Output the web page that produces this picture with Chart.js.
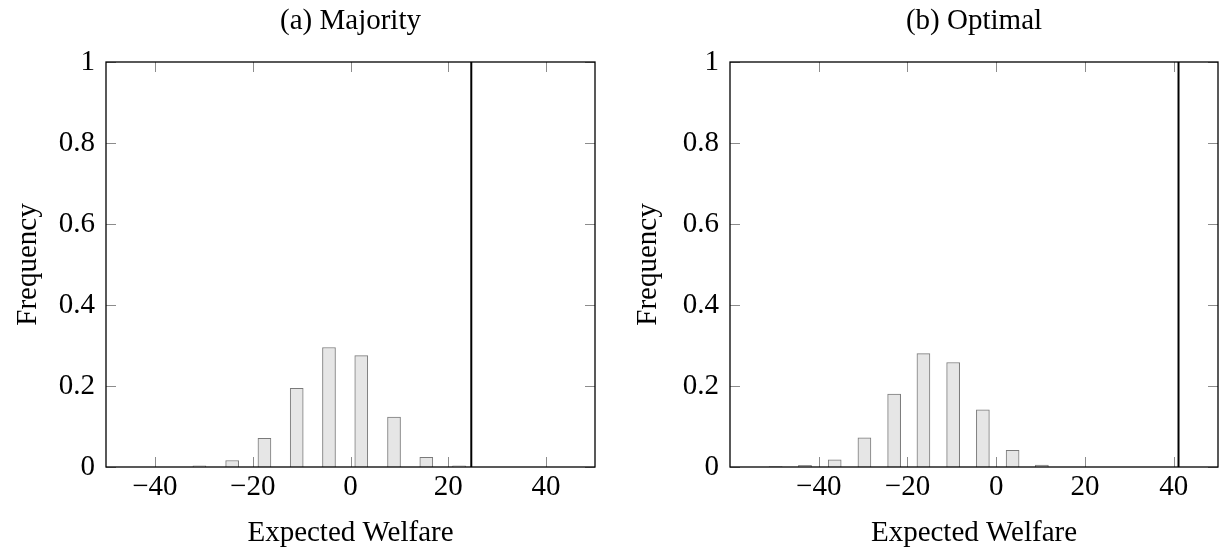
<!DOCTYPE html>
<html>
<head>
<meta charset="utf-8">
<script src="https://cdn.jsdelivr.net/npm/chart.js@4"></script>
<style>
  body { margin: 0; background: #fff; }
  #wrap { position: relative; width: 1224px; height: 552px; }
  canvas { position: absolute; top: 0; }
</style>
</head>
<body>
<div id="wrap">
  <canvas id="majority" width="612" height="552" style="left:0"></canvas>
  <canvas id="optimal" width="612" height="552" style="left:612px"></canvas>
</div>
<script>
// (a) Majority
let majorityBins = [-30.9, -24.2, -17.6, -11.0, -4.4, 2.2, 8.9, 15.5, 22.2];
let majorityFreq = [0.003, 0.016, 0.071, 0.194, 0.295, 0.275, 0.123, 0.024, 0.003];
let majorityLine = 24.7;

// (b) Optimal
let optimalBins = [-49.7, -43.1, -36.4, -29.7, -23.0, -16.4, -9.7, -3.0, 3.7, 10.3];
let optimalFreq = [0.001, 0.004, 0.018, 0.072, 0.18, 0.28, 0.258, 0.141, 0.041, 0.005];
let optimalLine = 41.1;

let xTicks = [-40, -20, 0, 20, 40];
let yTicks = [0, 0.2, 0.4, 0.6, 0.8, 1];

Chart.defaults.color = "#000";
Chart.defaults.font.family = "'Liberation Serif', 'DejaVu Serif', serif";
Chart.defaults.font.size = 29;

// frame around the plot area plus small inward ticks on all four sides
const framePlugin = {
    id: "frame",
    afterDatasetsDraw(chart) {
        const { ctx, chartArea: a, scales } = chart;
        ctx.save();
        ctx.strokeStyle = "#8c8c8c";
        ctx.lineWidth = 1;
        ctx.beginPath();
        xTicks.forEach(v => {
            let px = Math.round(scales.x.getPixelForValue(v)) + 0.5;
            ctx.moveTo(px, a.bottom); ctx.lineTo(px, a.bottom - 10);
            ctx.moveTo(px, a.top); ctx.lineTo(px, a.top + 10);
        });
        yTicks.forEach(v => {
            let py = Math.round(scales.y.getPixelForValue(v)) + 0.5;
            ctx.moveTo(a.left, py); ctx.lineTo(a.left + 10, py);
            ctx.moveTo(a.right, py); ctx.lineTo(a.right - 10, py);
        });
        ctx.stroke();
        ctx.strokeStyle = "#000";
        ctx.lineWidth = 1.3;
        ctx.strokeRect(a.left, a.top, a.right - a.left, a.bottom - a.top);
        ctx.restore();
    },
    afterDraw(chart) {
        const { ctx, chartArea: a } = chart;
        ctx.save();
        ctx.font = "29px 'Liberation Serif', serif";
        ctx.fillStyle = "#000";
        ctx.textAlign = "center";
        ctx.textBaseline = "middle";
        ctx.fillText(chart.options.plugins.frame.title, (a.left + a.right) / 2, 21);
        ctx.restore();
    }
};

function makeChart(id, title, bins, freq, lineX, xMin, xMax, yWidth, rightPad, yTitlePad) {
    let ctx = document.getElementById(id).getContext("2d");
    return new Chart(ctx, {
        data: {
            datasets: [{
                type: "bar",
                data: bins.map((b, i) => ({ x: b, y: freq[i] })),
                backgroundColor: "#e6e6e6",
                borderColor: "#7a7a7a",
                borderWidth: 1,
                barThickness: 13
            }, {
                type: "line",
                data: [{ x: lineX, y: 0 }, { x: lineX, y: 1 }],
                borderColor: "#000",
                borderWidth: 2,
                pointRadius: 0
            }]
        },
        options: {
            responsive: false,
            animation: false,
            layout: { padding: { left: 0, top: 62, right: rightPad, bottom: 0 } },
            plugins: {
                legend: { display: false },
                tooltip: { enabled: false },
                frame: { title: title }
            },
            scales: {
                x: {
                    type: "linear",
                    min: xMin,
                    max: xMax,
                    offset: false,
                    grid: { display: false, drawTicks: false },
                    border: { display: false },
                    afterBuildTicks: s => { s.ticks = xTicks.map(v => ({ value: v })); },
                    afterFit: s => { s.height = 85; },
                    ticks: {
                        padding: 3,
                        maxRotation: 0,
                        callback: v => v < 0 ? "\u2212" + Math.abs(v) : String(v)
                    },
                    title: { display: true, text: "Expected Welfare", padding: { top: 0, bottom: 1 } }
                },
                y: {
                    min: 0,
                    max: 1,
                    grid: { display: false, drawTicks: false },
                    border: { display: false },
                    afterBuildTicks: s => { s.ticks = yTicks.map(v => ({ value: v })); },
                    afterFit: s => { s.width = yWidth; },
                    ticks: { padding: 11, callback: v => String(v) },
                    title: { display: true, text: "Frequency", padding: { top: yTitlePad, bottom: 0 } }
                }
            }
        },
        plugins: [framePlugin]
    });
}

makeChart("majority", "(a) Majority", majorityBins, majorityFreq, majorityLine, -50, 50, 106, 17, 11);
makeChart("optimal", "(b) Optimal", optimalBins, optimalFreq, optimalLine, -60, 50, 118, 6, 19);
</script>
</body>
</html>
